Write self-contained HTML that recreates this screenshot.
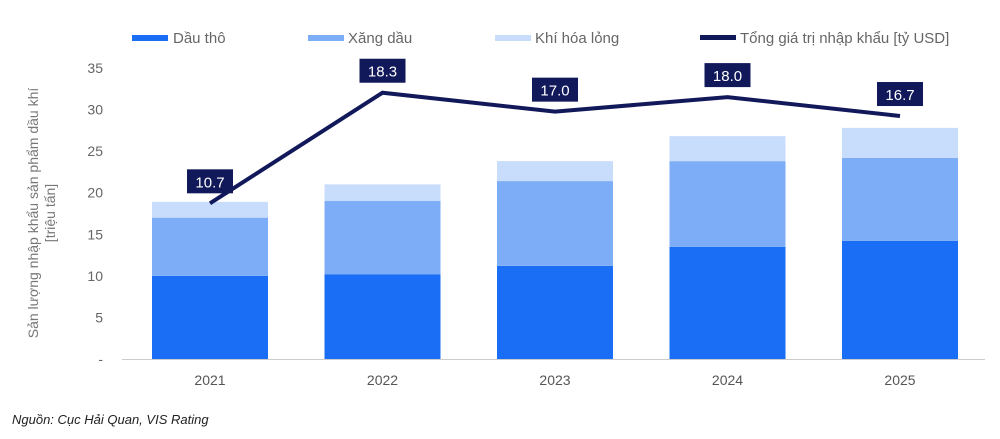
<!DOCTYPE html>
<html><head><meta charset="utf-8"><style>
body{margin:0;background:#fff;font-family:"Liberation Sans",sans-serif}
svg text{font-family:"Liberation Sans",sans-serif}
</style></head><body>
<svg width="1000" height="434" viewBox="0 0 1000 434">
<g id="legend">
<rect x="132" y="35" width="36" height="6" fill="#1a6ef5"/>
<text x="173" y="43" font-size="15" fill="#666">Dầu thô</text>
<rect x="308" y="35" width="36" height="6" fill="#7dadf7"/>
<text x="348" y="43" font-size="15" fill="#666">Xăng dầu</text>
<rect x="495" y="35" width="36" height="6" fill="#c8dcfb"/>
<text x="535" y="43" font-size="15" fill="#666">Khí hóa lỏng</text>
<rect x="700" y="35" width="36" height="5" fill="#12195a"/>
<text x="740" y="43" font-size="15" fill="#666">Tổng giá trị nhập khẩu [tỷ USD]</text>
</g>
<text transform="translate(38,213) rotate(-90)" text-anchor="middle" font-size="14" fill="#777"><tspan x="0" dy="0">Sản lượng nhập khẩu sản phẩm dầu khí</tspan><tspan x="0" dy="17">[triệu tấn]</tspan></text>
<g id="axes"></g>
<g id="bars"></g>
<g id="line"></g>
<text x="12" y="424" font-size="13" font-style="italic" fill="#222">Nguồn: Cục Hải Quan, VIS Rating</text>
</svg>
<script>
const categories=["2021","2022","2023","2024","2025"];
const crude=[10.0,10.2,11.2,13.5,14.2];
const gasoline=[7.0,8.8,10.2,10.3,10.0];
const lpg=[1.9,2.0,2.4,3.0,3.6];
const totalUSD=[10.7,18.3,17.0,18.0,16.7];
const yTicks=[0,5,10,15,20,25,30,35];
const ns="http://www.w3.org/2000/svg";
const y0=359,pxPer=(359-68)/35;
const y=v=>y0-v*pxPer;
const x=i=>210+i*172.5;
const bw=116, usdFactor=1.75;
function mk(t,a,p){const e=document.createElementNS(ns,t);for(const k in a)e.setAttribute(k,a[k]);p.appendChild(e);return e;}
const axes=document.getElementById('axes'),bars=document.getElementById('bars'),line=document.getElementById('line');
yTicks.forEach(t=>{const e=mk('text',{x:103,y:y(t)+5,'text-anchor':'end','font-size':14,fill:'#666'},axes);e.textContent=t===0?'-':t;

});
const ax=mk('line',{x1:122,x2:985,y1:y0+0.5,y2:y0+0.5,stroke:'#ccc','stroke-width':1},axes);


categories.forEach((c,i)=>{
 const segs=[[0,crude[i],'#1a6ef5','crude'],[crude[i],crude[i]+gasoline[i],'#7dadf7','gasoline'],[crude[i]+gasoline[i],crude[i]+gasoline[i]+lpg[i],'#c8dcfb','lpg']];
 segs.forEach(s=>{const r=mk('rect',{x:x(i)-bw/2,y:y(s[1]),width:bw,height:y(s[0])-y(s[1]),fill:s[2]},bars);
 
 });
 const t=mk('text',{x:x(i),y:385,'text-anchor':'middle','font-size':14,fill:'#555'},axes);t.textContent=c;
 
 
});
const pts=totalUSD.map((v,i)=>[x(i),y(v*usdFactor)]);
const pl=mk('polyline',{points:pts.map(p=>p.join(',')).join(' '),fill:'none',stroke:'#12195a','stroke-width':4,'stroke-linejoin':'miter'},line);


pts.forEach((p,i)=>{
 const r=mk('rect',{x:p[0]-23,y:p[1]-34,width:46,height:24,fill:'#12195a'},line);
 
 
 const t=mk('text',{x:p[0],y:p[1]-16,'text-anchor':'middle','font-size':15,fill:'#fff'},line);t.textContent=totalUSD[i].toFixed(1);
 
 
});
</script>
</body></html>
